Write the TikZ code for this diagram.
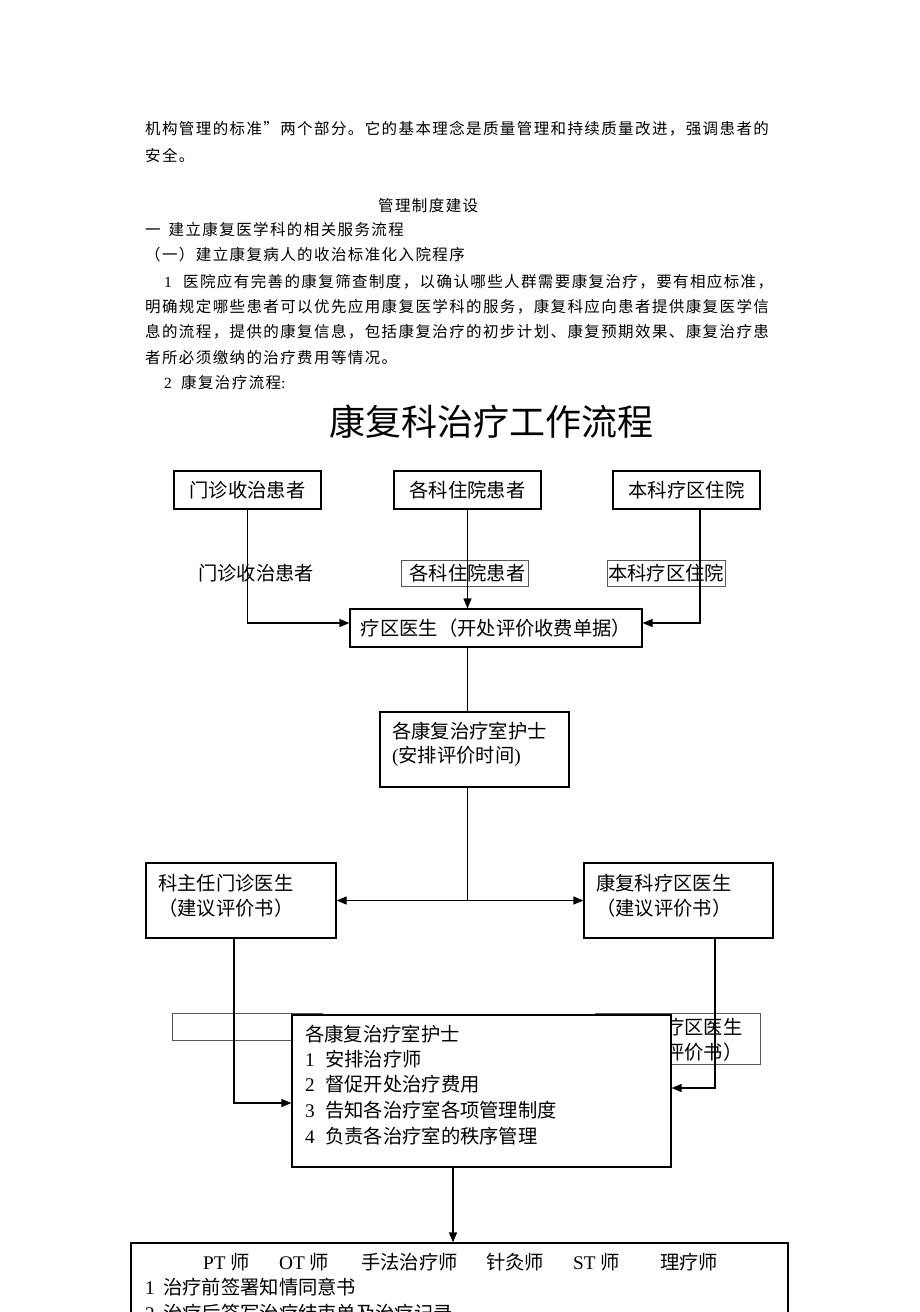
\documentclass[tikz,border=0pt]{standalone}
\usepackage{fontspec}
\setmainfont{Liberation Serif}
\newfontfamily\cjk{Noto Sans CJK SC}
\newfontfamily\cjkb[LetterSpace=9]{Noto Sans CJK SC}
\usetikzlibrary{arrows.meta}
\tikzset{
  body/.style={anchor=west, inner sep=0pt, font=\cjkb\fontsize{15.5pt}{18pt}\selectfont},
  ftext/.style={anchor=west, inner sep=0pt, font=\cjk\fontsize{19.3pt}{22pt}\selectfont},
  box/.style={draw, line width=1.2pt, inner sep=0pt, font=\cjk\fontsize{19.3pt}{22pt}\selectfont},
  thinbox/.style={draw=black!65, line width=0.8pt, inner sep=0pt, font=\cjk\fontsize{19.3pt}{22pt}\selectfont},
  conn/.style={line width=1.2pt},
  arr/.style={conn, -{Triangle[length=10pt,width=8pt]}},
  darr/.style={conn, {Triangle[length=10pt,width=8pt]}-{Triangle[length=10pt,width=8pt]}},
}
\begin{document}
\begin{tikzpicture}[x=1pt,y=-1pt]
\useasboundingbox (0,0) rectangle (920,1312);
\fill[white] (0,0) rectangle (920,1312);
\clip (0,0) rectangle (920,1312);

% body text
\node[body] (t1) at (145,129) {机构管理的标准”两个部分。它的基本理念是质量管理和持续质量改进，强调患者的};
\node[body] (t2) at (145,155) {安全。};
\node[body] (t3) at (378,206) {管理制度建设};
\node[body] (t4) at (145,230) {一\hspace{8pt}建立康复医学科的相关服务流程};
\node[body] (t5) at (145,255) {（一）建立康复病人的收治标准化入院程序};
\node[body] (t6) at (164,282) {\makebox[19pt][l]{\rmfamily 1}医院应有完善的康复筛查制度，以确认哪些人群需要康复治疗，要有相应标准，};
\node[body] (t7) at (145,307) {明确规定哪些患者可以优先应用康复医学科的服务，康复科应向患者提供康复医学信};
\node[body] (t8) at (145,332) {息的流程，提供的康复信息，包括康复治疗的初步计划、康复预期效果、康复治疗患};
\node[body] (t9) at (145,358) {者所必须缴纳的治疗费用等情况。};
\node[body] (t10) at (164,383) {\makebox[17pt][l]{\rmfamily 2}康复治疗流程{\rmfamily :}};

% title
\node[inner sep=0pt, font=\cjk\fontsize{36pt}{40pt}\selectfont] (title) at (491,422) {康复科治疗工作流程};

% top boxes
\node[box, minimum width=147pt, minimum height=38pt] (b1) at (247.5,490) {门诊收治患者};
\node[box, minimum width=147pt, minimum height=38pt] (b2) at (467.5,490) {各科住院患者};
\node[box, minimum width=147pt, minimum height=38pt] (b3) at (686.5,490) {本科疗区住院};

% middle labels
\node[ftext, anchor=center] (l1) at (256,573) {门诊收治患者};
\node[thinbox, minimum width=127pt, minimum height=26pt] (l2) at (464.5,573) {\hspace{6pt}各科住院患者};
\node[thinbox, minimum width=118pt, minimum height=26pt] (l3) at (666,573) {本科疗区住院};

% doctor box
\node[box, minimum width=292pt, minimum height=38pt] (doc) at (496,628) {疗区医生（开处评价收费单据）};

% nurse box 1
\node[box, minimum width=189pt, minimum height=75pt] (n1) at (474.5,749.5) {};
\node[ftext] (n1a) at (392,731) {各康复治疗室护士};
\node[ftext] (n1b) at (392,756) {{\rmfamily (}安排评价时间{\rmfamily )}};

% left / right doctor boxes
\node[box, minimum width=190pt, minimum height=75pt] (L) at (241,900.5) {};
\node[ftext] (La) at (158,883) {科主任门诊医生};
\node[ftext] (Lb) at (158,908) {（建议评价书）};
\node[box, minimum width=189pt, minimum height=75pt] (R) at (678.5,900.5) {};
\node[ftext] (Ra) at (596,883) {康复科疗区医生};
\node[ftext] (Rb) at (596,908) {（建议评价书）};

% hidden boxes behind
\node[thinbox, minimum width=150pt, minimum height=27pt] (hL) at (247,1026.5) {};
\node[thinbox, minimum width=165pt, minimum height=51pt] (hR) at (677.5,1038.5) {};
\node[ftext] (hRa) at (607,1027) {康复科疗区医生};
\node[ftext] (hRb) at (607,1052) {（建议评价书）};

% big nurse box
\node[box, fill=white, minimum width=379pt, minimum height=152pt] (big) at (481.5,1091) {};
\node[ftext] (g0) at (305,1034) {各康复治疗室护士};
\node[ftext] (g1) at (305,1059) {\makebox[20pt][l]{\rmfamily 1}安排治疗师};
\node[ftext] (g2) at (305,1084) {\makebox[20pt][l]{\rmfamily 2}督促开处治疗费用};
\node[ftext] (g3) at (305,1110) {\makebox[20pt][l]{\rmfamily 3}告知各治疗室各项管理制度};
\node[ftext] (g4) at (305,1136) {\makebox[20pt][l]{\rmfamily 4}负责各治疗室的秩序管理};

% bottom box
\node[box, minimum width=657pt, minimum height=100pt] (bot) at (459.5,1293) {};
\node[ftext] (p1) at (203,1262) {{\rmfamily PT} 师};
\node[ftext] (p2) at (279,1262) {{\rmfamily OT} 师};
\node[ftext] (p3) at (361,1262) {手法治疗师};
\node[ftext] (p4) at (486,1262) {针灸师};
\node[ftext] (p5) at (573,1262) {{\rmfamily ST} 师};
\node[ftext] (p6) at (660,1262) {理疗师};
\node[ftext] (q1) at (145,1287) {\makebox[18pt][l]{\rmfamily 1}治疗前签署知情同意书};
\node[ftext] (q2) at (145,1313) {\makebox[18pt][l]{\rmfamily 2}治疗后签写治疗结束单及治疗记录};

% connectors
\coordinate (c1) at (247.5,623);
\draw[arr] (b1.south) -- (c1) -- (c1 -| doc.west);
\draw[arr] (b2.south) -- (b2.south |- doc.north);
\coordinate (c3) at (700,623);
\draw[arr] (c3 |- b3.south) -- (c3) -- (c3 -| doc.east);
\draw[conn] (b2.south |- doc.south) -- (b2.south |- n1.north);
\draw[conn] (b2.south |- n1.south) -- (b2.south |- L.east);
\draw[darr] (L.east) -- (R.west);
\coordinate (c4) at (234,1103);
\draw[arr] (c4 |- L.south) -- (c4) -- (c4 -| big.west);
\coordinate (c5) at (715,1088);
\draw[arr] (c5 |- R.south) -- (c5) -- (c5 -| big.east);
\coordinate (c6) at (453,1200);
\draw[arr] (c6 |- big.south) -- (c6 |- bot.north);
\end{tikzpicture}
\end{document}
